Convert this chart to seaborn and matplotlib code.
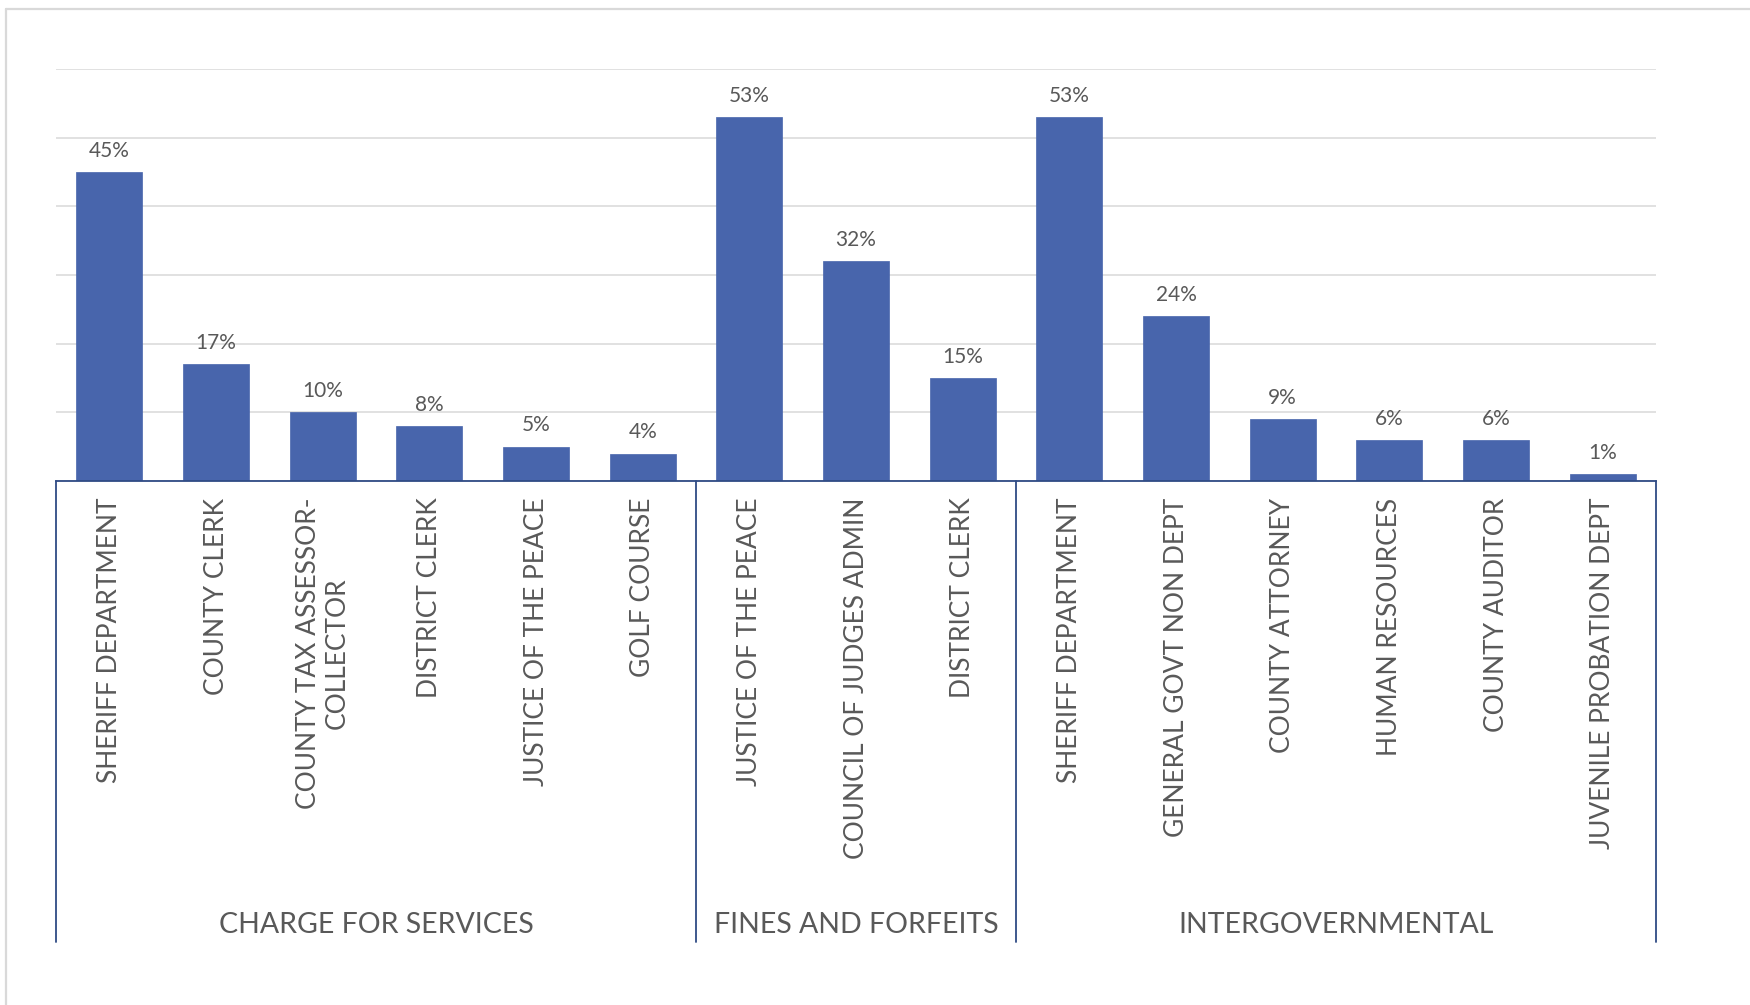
import matplotlib
matplotlib.use("Agg")
import matplotlib.pyplot as plt
from matplotlib.lines import Line2D
import seaborn as sns
import pandas as pd

# Revenue share by department, grouped by revenue source
groups = ["CHARGE FOR SERVICES", "FINES AND FORFEITS", "INTERGOVERNMENTAL"]
group_sizes = [6, 3, 6]
departments = [
    "SHERIFF DEPARTMENT", "COUNTY CLERK", "COUNTY TAX ASSESSOR-\nCOLLECTOR",
    "DISTRICT CLERK", "JUSTICE OF THE PEACE", "GOLF COURSE",
    "JUSTICE OF THE PEACE", "COUNCIL OF JUDGES ADMIN", "DISTRICT CLERK",
    "SHERIFF DEPARTMENT", "GENERAL GOVT NON DEPT", "COUNTY ATTORNEY",
    "HUMAN RESOURCES", "COUNTY AUDITOR", "JUVENILE PROBATION DEPT",
]
shares = [0.45, 0.17, 0.10, 0.08, 0.05, 0.04,
          0.53, 0.32, 0.15,
          0.53, 0.24, 0.09, 0.06, 0.06, 0.01]
y_ticks = [0.0, 0.1, 0.2, 0.3, 0.4, 0.5, 0.6]

group_col = [g for g, n in zip(groups, group_sizes) for _ in range(n)]
keys = [f"{g}|{d}|{i}" for i, (g, d) in enumerate(zip(group_col, departments))]
df = pd.DataFrame({"key": keys, "group": group_col,
                   "department": departments, "share": shares})

sns.set_theme(style="white")
plt.rcParams["font.family"] = ["Lato", "DejaVu Sans"]

TEXT = "#595959"
BAR = "#4865AC"
NAVY = "#2F4B85"
GRID = "#D9D9D9"

fig = plt.figure(figsize=(17.5, 10.05), dpi=100)
ax = fig.add_axes([0.032, 0.5214, 0.9143, 0.4099])

sns.barplot(data=df, x="key", y="share", order=keys, color=BAR,
            width=0.62, saturation=1, ax=ax, edgecolor=BAR, linewidth=0.5)

ax.set_xlim(-0.5, len(keys) - 0.5)
ax.set_ylim(0, 0.6)
ax.set_yticks(y_ticks)
ax.set_yticklabels([])
ax.tick_params(axis="y", length=0)
ax.yaxis.grid(True, color=GRID, linewidth=1.1)
ax.set_axisbelow(True)
ax.set_xlabel("")
ax.set_ylabel("")

for side in ("top", "left", "right"):
    ax.spines[side].set_visible(False)
ax.spines["bottom"].set_color(NAVY)
ax.spines["bottom"].set_linewidth(1.3)
ax.spines["bottom"].set_zorder(5)

ax.set_xticks(range(len(keys)))
ax.set_xticklabels(departments, rotation=90, ha="center", va="top",
                   multialignment="center", fontsize=19, color=TEXT)
ax.tick_params(axis="x", length=0, pad=12)

# value labels above each bar
for i, v in enumerate(shares):
    ax.annotate(f"{v:.0%}", (i, v), xytext=(0, 11), textcoords="offset points",
                ha="center", va="baseline", fontsize=15, color=TEXT)

# group separators and group names below the category labels
trans = ax.get_xaxis_transform()
edges = [-0.5]
for n in group_sizes:
    edges.append(edges[-1] + n)
for x in edges:
    ax.add_line(Line2D([x, x], [0, -1.119], transform=trans, color=NAVY,
                       linewidth=1.3, clip_on=False))
for g, lo, hi in zip(groups, edges[:-1], edges[1:]):
    ax.text((lo + hi) / 2, -1.078, g, transform=trans, ha="center",
            va="center", fontsize=20.5, color=TEXT)

# light frame around the chart area
fig.add_artist(Line2D([0.0034, 1.0], [0.991, 0.991], transform=fig.transFigure,
                      color=GRID, linewidth=1.6))
fig.add_artist(Line2D([0.0034, 0.0034], [0.0, 0.991], transform=fig.transFigure,
                      color=GRID, linewidth=1.6))

fig.savefig("out.png", dpi=100, facecolor="white")
